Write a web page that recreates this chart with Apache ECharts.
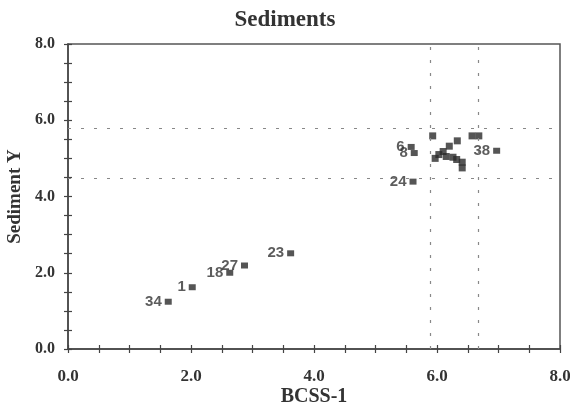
<!DOCTYPE html>
<html><head><meta charset="utf-8">
<script src="https://cdn.jsdelivr.net/npm/echarts@6/dist/echarts.min.js"></script>
<style>html,body{margin:0;padding:0;background:#fff}#c{width:570px;height:403px}</style>
</head><body><div id="c"></div>
<script>
// Labeled samples
const labeledNames = ['34','1','18','27','23','6','8','24','38'];
const labeledX = [1.63, 2.02, 2.63, 2.87, 3.62, 5.58, 5.63, 5.61, 6.97];
const labeledY = [1.24, 1.62, 2.00, 2.19, 2.51, 5.30, 5.14, 4.39, 5.20];
// Unlabeled cluster samples
const clusterX = [5.93, 6.57, 6.68, 6.33, 6.20, 6.10, 6.03, 5.97, 6.15, 6.26, 6.32, 6.41, 6.41];
const clusterY = [5.59, 5.59, 5.59, 5.46, 5.32, 5.18, 5.10, 5.00, 5.05, 5.03, 4.97, 4.90, 4.75];
// Reference lines
const refX = [5.89, 6.67];
const refY = [5.80, 4.49];
const axisMin = 0, axisMax = 8, tickStep = 0.5;

const chart = echarts.init(document.getElementById('c'), null, {renderer:'canvas'});
const serif = '"Liberation Serif", "Times New Roman", serif';
const sans = '"Liberation Sans", Arial, sans-serif';
const axColor = '#444';
function fmt(v){ return (Math.abs(v % 2) < 1e-9) ? v.toFixed(1) : ''; }
const baseAxis = {
  type:'value', min: axisMin, max: axisMax, interval: tickStep,
  splitLine:{show:false},
  axisLine:{lineStyle:{color:axColor, width:1.5}},
};
const tickAxis = Object.assign({}, baseAxis, {
  offset:-4, axisLine:{show:false},
  axisTick:{show:true, length:8, lineStyle:{color:axColor, width:1.2}},
  axisLabel:{show:false}
});
chart.setOption({
  animation:false,
  title:{text:'Sediments', left:'center', top:4,
    textStyle:{fontFamily:serif, fontWeight:'bold', fontSize:23, color:'#333'}},
  grid:{left:68, right:10, top:44, bottom:54, containLabel:false, outerBoundsMode:'none',
    show:true, borderColor:'#555', borderWidth:1.5},
  xAxis:[
    Object.assign({}, baseAxis, {name:'BCSS-1', nameLocation:'middle', nameGap:38, nameMoveOverlap:false,
      nameTextStyle:{fontFamily:serif, fontWeight:'bold', fontSize:20, color:'#333'},
      axisTick:{show:false},
      axisLabel:{formatter:fmt, margin:19, fontFamily:serif, fontWeight:'bold', fontSize:17, color:'#333', showMaxLabel:true}}),
    Object.assign({}, tickAxis, {position:'bottom'})
  ],
  yAxis:[
    Object.assign({}, baseAxis, {name:'Sediment Y', nameLocation:'middle', nameGap:38,
      nameTextStyle:{fontFamily:serif, fontWeight:'bold', fontSize:19, color:'#333'},
      axisTick:{show:false},
      axisLabel:{formatter:fmt, margin:13, fontFamily:serif, fontWeight:'bold', fontSize:16, color:'#333'}}),
    Object.assign({}, tickAxis, {position:'left'})
  ],
  series:[
    {type:'scatter', symbol:'rect', symbolSize:[7,6], itemStyle:{color:'#2a2a2a'},
     data: labeledX.map((x,i)=>({value:[x, labeledY[i]], name:labeledNames[i]})),
     label:{show:true, position:'left', distance:3, formatter:p=>p.name,
       fontFamily:sans, fontWeight:'bold', fontSize:15, color:'#333'},
     markLine:{silent:true, symbol:'none', label:{show:false},
       lineStyle:{color:'#888', type:[3,10], width:1.2},
       data: refX.map(v=>({xAxis:v})).concat(refY.map(v=>({yAxis:v})))}
    },
    {type:'scatter', symbol:'rect', symbolSize:[7,7], itemStyle:{color:'#2a2a2a'},
     data: clusterX.map((x,i)=>[x, clusterY[i]])}
  ]
});
</script></body></html>
